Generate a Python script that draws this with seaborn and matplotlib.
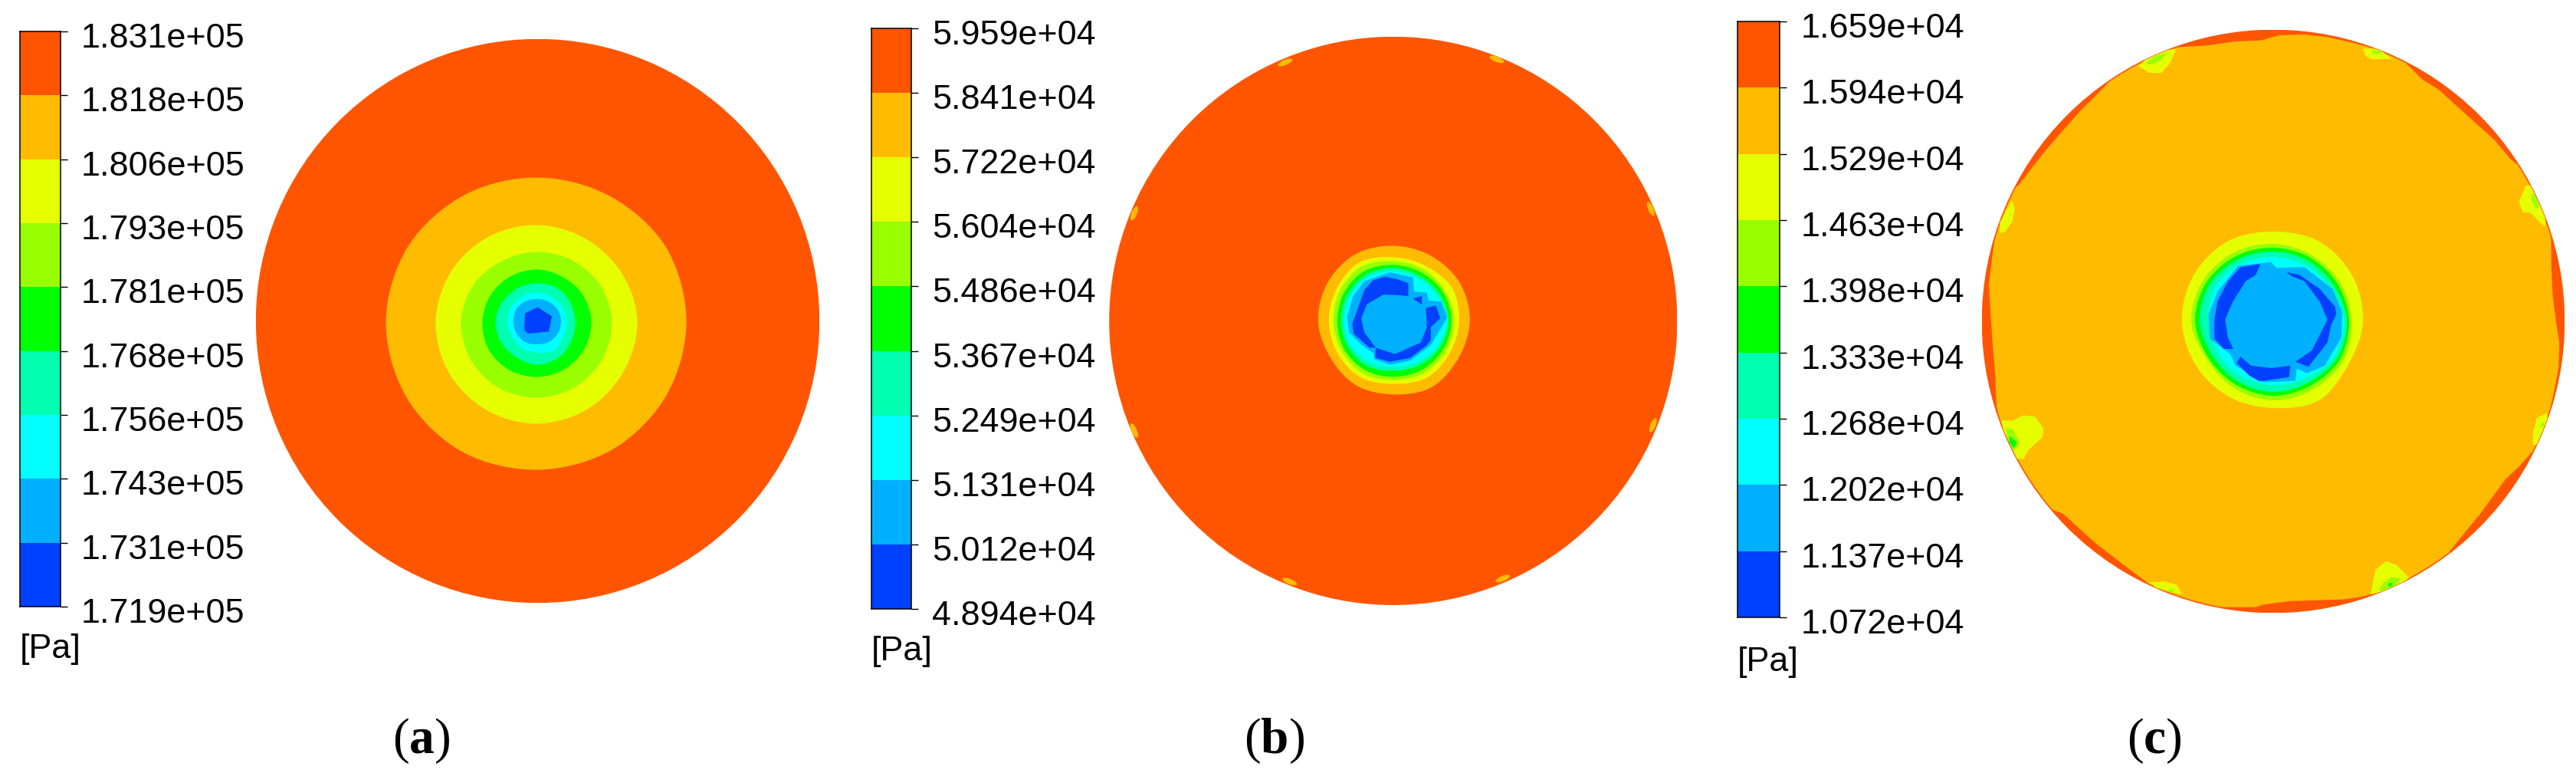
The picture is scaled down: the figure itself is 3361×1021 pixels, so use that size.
import numpy as np
import matplotlib
matplotlib.use("Agg")
import matplotlib.pyplot as plt
import seaborn as sns
from matplotlib.colors import ListedColormap, BoundaryNorm
from matplotlib.patches import Circle, Ellipse, PathPatch, Polygon
from matplotlib.path import Path
from matplotlib.transforms import ScaledTranslation

W, H = 3361, 1021

# legend levels, top to bottom [Pa]
LEVELS_A = [1.831e5, 1.818e5, 1.806e5, 1.793e5, 1.781e5, 1.768e5, 1.756e5, 1.743e5, 1.731e5, 1.719e5]
LEVELS_B = [5.959e4, 5.841e4, 5.722e4, 5.604e4, 5.486e4, 5.367e4, 5.249e4, 5.131e4, 5.012e4, 4.894e4]
LEVELS_C = [1.659e4, 1.594e4, 1.529e4, 1.463e4, 1.398e4, 1.333e4, 1.268e4, 1.202e4, 1.137e4, 1.072e4]

# band colours, low to high
BLUE, LTBLUE, CYAN, SPRING, GREEN = "#0040ff", "#00b0ff", "#00ffff", "#00ffb0", "#00ff00"
LIME, YELLOW, ORANGE, RED = "#99ff00", "#e6ff00", "#ffbb00", "#ff5500"
BAND_COLORS = [BLUE, LTBLUE, CYAN, SPRING, GREEN, LIME, YELLOW, ORANGE, RED]

# contour radii, one per angle
RING_ANGLES = [0, 30, 60, 90, 120, 150, 180, 210, 240, 270, 300, 330]

A_ORANGE = [194, 193, 188, 187, 190, 195, 198, 198, 197, 194, 194, 194]
A_YELLOW = [130, 126, 124, 125, 127, 130, 133, 134, 134, 134, 132, 130]
A_LIME = [97, 94, 91, 90, 91, 96, 100, 101, 101, 100, 99, 98]
A_GREEN = [70, 68, 66, 67, 68, 70, 72, 74, 74, 73, 72, 71]
A_SPRING = [49, 49, 50, 49, 50, 52, 55, 55, 55, 57, 55, 51]
A_CYAN = [38.5, 37, 36, 37.5, 38, 39, 40, 39, 41, 41.5, 44, 39]
A_LTBLUE = [30.5, 30, 29, 28.5, 30, 32, 31.5, 32, 32, 30.5, 31, 31]
A_BLUE_X = [-16.5, 0, 18.5, 14.5, -13, -17.5]
A_BLUE_Y = [10, 18, 6, -14, -16.5, -11.5]

B_ORANGE = [100, 100, 98, 98, 100, 99, 98, 95, 97, 96, 100, 98]
B_YELLOW = [86, 88, 83, 83, 88, 85, 84, 84, 85, 82, 86, 85]
B_LIME = [79, 78, 78, 78, 82, 80, 78, 78, 79, 77, 79, 79]
B_GREEN = [76, 75, 73, 73, 75, 74, 73, 74, 74, 73, 74, 75]
B_SPRING = [72, 70, 68, 69, 70, 69, 68, 68, 68, 65, 67, 70]
B_CYAN = [71, 66, 64, 65, 66, 65, 64, 64, 62, 60, 62, 66]
B_LTBLUE_X = [-37.7, -4.3, 25.7, 27.3, 44, 45.7, 62.3, 70.7, 59, 49, 22.3, -4.3, -24.3, -26, -41, -57.7, -60.3, -52.7]
B_LTBLUE_Y = [51.7, 63.3, 56.7, 38.3, 36.7, 26.7, 25, 5, -15, -31.7, -51.7, -57.3, -50, -41.7, -31.7, -15, 5, 31.7]
B_BLUE_X = [19.7, 5.7, -11, -26, -37.7, -47.7, -53.3, -51.7, -31, -22.7, -23.7, -4.3, 22.3, 44, 49, 49, 61.3, 55.7, 42.3, 44, 19.7]
B_BLUE_Y = [49, 54.3, 57.7, 53.3, 40, 11.7, -3.3, -16.7, -35, -35, -48.3, -53.3, -48.3, -31.7, -25, -8.3, 3.3, 20, 16.7, -5, 32.3]
B_CORE_X = [-12.7, 9, 25.7, 39, 44, 35.7, 2.3, -22.7, -37.7, -41.7, -34.3]
B_CORE_Y = [34.3, 33.3, 31.7, 15, -8.3, -28.3, -43.3, -35, -15, 3.3, 21.7]
B_TRI_X = [25.7, 37.3, 37.3]
B_TRI_Y = [29.3, 32.3, 21]
# small orange flecks at the rim
B_FLECK_X = [-141, 135, 336, -338, -338, 339, -135, 143]
B_FLECK_Y = [337, 341, 146, 140, -143, -136, -340, -336]

C_YELLOW = [117, 119, 120, 117, 120, 120, 119, 116, 114, 113, 119, 113]
C_LIME = [102, 101, 100, 101, 103.5, 106, 107, 100, 101, 103, 103, 105]
C_GREEN = [99, 97, 96, 96, 98, 101, 102, 97, 96, 97, 97, 100]
C_SPRING = [96, 92, 91, 91, 93, 96, 96, 91, 91, 92, 92, 96]
C_CYAN = [92, 86, 84, 84, 86, 88, 84, 83, 83, 83, 85, 92]
C_LTBLUE_X = [-46, -2.7, 4, 40.7, 77.3, 90, 89, 67.3, 44, 30.7, 29, -12.7, -49.3, -56, -82.7, -84.3, -72.7]
C_LTBLUE_Y = [72.3, 77.3, 69.7, 70.7, 42.3, 12.3, -21, -57.7, -67.7, -61.7, -77.7, -79.3, -57.7, -42.7, -22.7, 9, 39]
C_ARC1 = [(-16.7, 74.7), (-22.7, 60.7), (-36, 52.3), (-52.7, 25.7), (-62.7, 2.3), (-59.3, -21), (-52, -36),
          (-64.3, -36), (-76.7, -22.7), (-76.7, 2.3), (-72.7, 25.7), (-59.3, 52.3), (-42.7, 70.7)]
C_ARC2 = [(17.3, 64), (34, 60.7), (60.7, 42.3), (80.7, 19), (82.3, 9), (75.7, -4.3), (70.7, -27.7), (45.7, -59.3),
          (29, -52.7), (50.7, -37.7), (64, -11), (70.7, 2.3), (60.7, 25.7), (40.7, 52.3), (24, 59)]
C_ARC3 = [(-42.7, -46), (-29.3, -57.7), (-2.7, -61), (22.3, -57.7), (20.7, -72.7), (-17.7, -78.3), (-31, -71), (-47.7, -54.3)]

# inner edge of the red rim pieces
C_RED_TOP = [(-127.7, 357.3), (-86, 359.7), (-49.3, 365), (-16, 366.3), (7.3, 373), (40.7, 374), (70.7, 370.7), (107.3, 362.3), (140.7, 354)]
C_RED_NE = [(174, 335.7), (194, 315.7), (216, 302), (259, 263), (288, 237), (310, 211), (318, 205)]
C_RED_E = [(362.3, 119), (363, 65.7), (364.7, 32.3), (370, -7.7), (373.3, -27.7), (372.3, -61), (365.7, -94.3), (360.7, -117.7)]
C_RED_SE = [(230, -300), (270, -251), (303, -206), (321, -189), (337, -171)]
C_RED_B = [(-110, -363), (-72.7, -372.7), (-46, -372.7), (-22.7, -372.7), (-12.7, -369.3), (20.7, -365), (67.3, -363.3), (90.7, -362.7), (114, -359.3), (140.7, -352.7)]
C_RED_SW = [(-290, -245), (-274, -251), (-231, -290), (-184, -326), (-165, -340)]
C_RED_W = [(-356, 135.7), (-364.3, 102.3), (-371, 49), (-368.7, 9), (-366, -31), (-362.7, -71), (-361, -111), (-356, -131)]
C_RED_NW = [(-217, 309), (-253, 273), (-296, 224), (-332, 178), (-339, 172)]

# spots on the rim of (c)
C_SPOTS = [
    (YELLOW, [(-176, 332.3), (-164.3, 344), (-137.7, 354), (-126.7, 355), (-134.3, 337.3), (-146, 324), (-161, 324)]),
    (LIME, [(-166, 337.3), (-154.3, 345.7), (-137.7, 350.7), (-144.3, 342.3), (-154.3, 336.3), (-162.7, 335)]),
    (YELLOW, [(117.3, 355.7), (137.3, 355.7), (154, 342.3), (129, 341.7), (120.7, 345.7)]),
    (LIME, [(129, 353), (140.7, 352.3), (140.7, 349), (129, 349)]),
    (YELLOW, [(-356.7, 129), (-341, 157.3), (-337, 147.3), (-341, 129), (-351, 115.7), (-356.7, 115.7)]),
    (YELLOW, [(-355.3, -129.3), (-339.3, -129.3), (-326, -122.7), (-311, -124.3), (-300, -139.3), (-301, -151),
              (-319.3, -167.7), (-326, -179.3), (-334.3, -179.3), (-351, -144.3)]),
    (LIME, [(-349.3, -139.3), (-339.3, -141), (-331, -157.7), (-337.7, -169.3), (-346, -154.3)]),
    (GREEN, [(-344.3, -149.3), (-334.3, -157.7), (-338.7, -166), (-344.3, -157.7)]),
    (YELLOW, [(330, 177.3), (335.7, 177.3), (355.7, 135.7), (354, 123), (335.7, 141.7), (325.7, 142.3), (320.7, 155.7)]),
    (LIME, [(336.7, 167.3), (340.7, 165.7), (347.3, 149), (342.3, 147.3), (337.3, 157.3)]),
    (YELLOW, [(344, -126), (357.3, -119.3), (358, -127.7), (344, -161), (339, -161), (339, -144.3)]),
    (LIME, [(350, -134.3), (353.3, -131), (353.3, -136), (349, -139.3)]),
    (YELLOW, [(-162, -340.3), (-142.7, -339.3), (-126, -343.7), (-119.3, -356), (-136, -352.7), (-152.7, -347.7)]),
    (LIME, [(-139.3, -350.3), (-131, -349.3), (-129.3, -352.7), (-134.3, -353.3)]),
    (YELLOW, [(147.3, -312.7), (160.7, -317.7), (177.3, -334.3), (157.3, -349.3), (127.3, -356), (133.3, -324.3)]),
    (LIME, [(154, -333.3), (167.3, -336), (154, -349.3), (137.3, -351), (144, -341)]),
    (GREEN, [(150.7, -341), (155.7, -341), (154, -346), (150.7, -346)]),
]

sns.set_theme(style="white")
plt.rcParams["font.family"] = ["Liberation Sans", "DejaVu Sans"]
plt.rcParams["mathtext.fontset"] = "custom"
plt.rcParams["mathtext.rm"] = "Liberation Serif"
plt.rcParams["mathtext.bf"] = "Liberation Serif:bold"

fig = plt.figure(figsize=(W / 100, H / 100), dpi=100, facecolor="white")


def pixel_axes(x0, y0, x1, y1):
    return fig.add_axes([x0 / W, 1 - y1 / H, (x1 - x0) / W, (y1 - y0) / H])


def colorbar(x0, y0, x1, y1, levels, pa_y):
    ax = pixel_axes(x0, y0, x1, y1)
    lv = np.array(levels)
    mids = ((lv[:-1] + lv[1:]) / 2).reshape(-1, 1)
    norm = BoundaryNorm(lv[::-1], 9)
    sns.heatmap(mids, ax=ax, cmap=ListedColormap(BAND_COLORS), norm=norm, cbar=False,
                xticklabels=False, yticklabels=False)
    ax.yaxis.tick_right()
    ax.set_yticks(np.arange(10))
    ax.set_yticklabels([f"{v:.3e}" for v in levels], rotation=0, fontsize=32.3, color="black")
    ax.tick_params(axis="y", length=6.5, width=1, pad=13, color="black", right=True, left=False)
    for lab in ax.get_yticklabels():
        lab.set_transform(lab.get_transform() + ScaledTranslation(0, -5 / 100, fig.dpi_scale_trans))
    ax.set_xticks([])
    for s in ax.spines.values():
        s.set_visible(True)
        s.set_color("black")
        s.set_linewidth(1.1)
    fig.text(x0 / W, 1 - pa_y / H, "[Pa]", fontsize=32.3, va="center", ha="left", color="black")


def disc_axes(cx, cy, r):
    ax = pixel_axes(cx - r, cy - r, cx + r, cy + r)
    ax.set_xlim(-r, r)
    ax.set_ylim(-r, r)
    ax.axis("off")
    return ax


def ring(ax, radii, color):
    # closed smooth outline through the read radii
    th = np.radians(RING_ANGLES)
    pts = np.column_stack([np.array(radii) * np.cos(th), np.array(radii) * np.sin(th)])
    n = len(pts)
    verts = [pts[0]]
    codes = [Path.MOVETO]
    for i in range(n):
        p0, p1, p2, p3 = pts[i - 1], pts[i], pts[(i + 1) % n], pts[(i + 2) % n]
        verts += [p1 + (p2 - p0) / 6, p2 - (p3 - p1) / 6, p2]
        codes += [Path.CURVE4] * 3
    ax.add_patch(PathPatch(Path(verts, codes), fc=color, ec="none", lw=0))


def poly(ax, pts, color, clip=None):
    p = Polygon(pts, closed=True, fc=color, ec="none", lw=0)
    ax.add_patch(p)
    if clip is not None:
        p.set_clip_path(clip)


def rim_piece(ax, inner, clip):
    inner = np.array(inner)
    poly(ax, np.vstack([inner, inner[::-1] * 1.12]), RED, clip)


# (a)
colorbar(26, 41, 78.6, 791, LEVELS_A, 846)
ax = disc_axes(701.5, 418.5, 367.7)
ax.add_patch(Circle((0, 0), 367.7, fc=RED, ec="none"))
for radii, c in [(A_ORANGE, ORANGE), (A_YELLOW, YELLOW), (A_LIME, LIME), (A_GREEN, GREEN),
                 (A_SPRING, SPRING), (A_CYAN, CYAN), (A_LTBLUE, LTBLUE)]:
    ring(ax, radii, c)
poly(ax, list(zip(A_BLUE_X, A_BLUE_Y)), BLUE)

# (b)
colorbar(1136.8, 37, 1189.4, 794, LEVELS_B, 850)
ax = disc_axes(1817.8, 418.4, 370.6)
ax.add_patch(Circle((0, 0), 370.6, fc=RED, ec="none"))
for radii, c in [(B_ORANGE, ORANGE), (B_YELLOW, YELLOW), (B_LIME, LIME), (B_GREEN, GREEN),
                 (B_SPRING, SPRING), (B_CYAN, CYAN)]:
    ring(ax, radii, c)
poly(ax, list(zip(B_LTBLUE_X, B_LTBLUE_Y)), LTBLUE)
poly(ax, list(zip(B_BLUE_X, B_BLUE_Y)), BLUE)
poly(ax, list(zip(B_CORE_X, B_CORE_Y)), LTBLUE)
poly(ax, list(zip(B_TRI_X, B_TRI_Y)), BLUE)
for fx, fy in zip(B_FLECK_X, B_FLECK_Y):
    ax.add_patch(Ellipse((fx, fy), 20, 7, angle=np.degrees(np.arctan2(fy, fx)) + 90, fc=ORANGE, ec="none"))

# (c)
colorbar(2266.8, 28, 2322.4, 805, LEVELS_C, 863)
ax = disc_axes(2966, 419, 380.3)
disc = Circle((0, 0), 379.5, fc=ORANGE, ec=RED, lw=1.2)
ax.add_patch(disc)
for piece in [C_RED_TOP, C_RED_NE, C_RED_E, C_RED_SE, C_RED_B, C_RED_SW, C_RED_W, C_RED_NW]:
    rim_piece(ax, piece, disc)
for c, pts in C_SPOTS:
    poly(ax, pts, c, disc)
for radii, c in [(C_YELLOW, YELLOW), (C_LIME, LIME), (C_GREEN, GREEN), (C_SPRING, SPRING), (C_CYAN, CYAN)]:
    ring(ax, radii, c)
poly(ax, list(zip(C_LTBLUE_X, C_LTBLUE_Y)), LTBLUE)
for arc in [C_ARC1, C_ARC2, C_ARC3]:
    poly(ax, arc, BLUE)

# panel letters
for x, letter in [(550, "a"), (1662, "b"), (2811, "c")]:
    fig.text(x / W, 1 - 966 / H, rf"$\mathrm{{(}}\mathbf{{{letter}}}\mathrm{{)}}$", fontsize=47,
             ha="center", va="center", color="black")

fig.savefig("out.png", dpi=100, facecolor="white")
